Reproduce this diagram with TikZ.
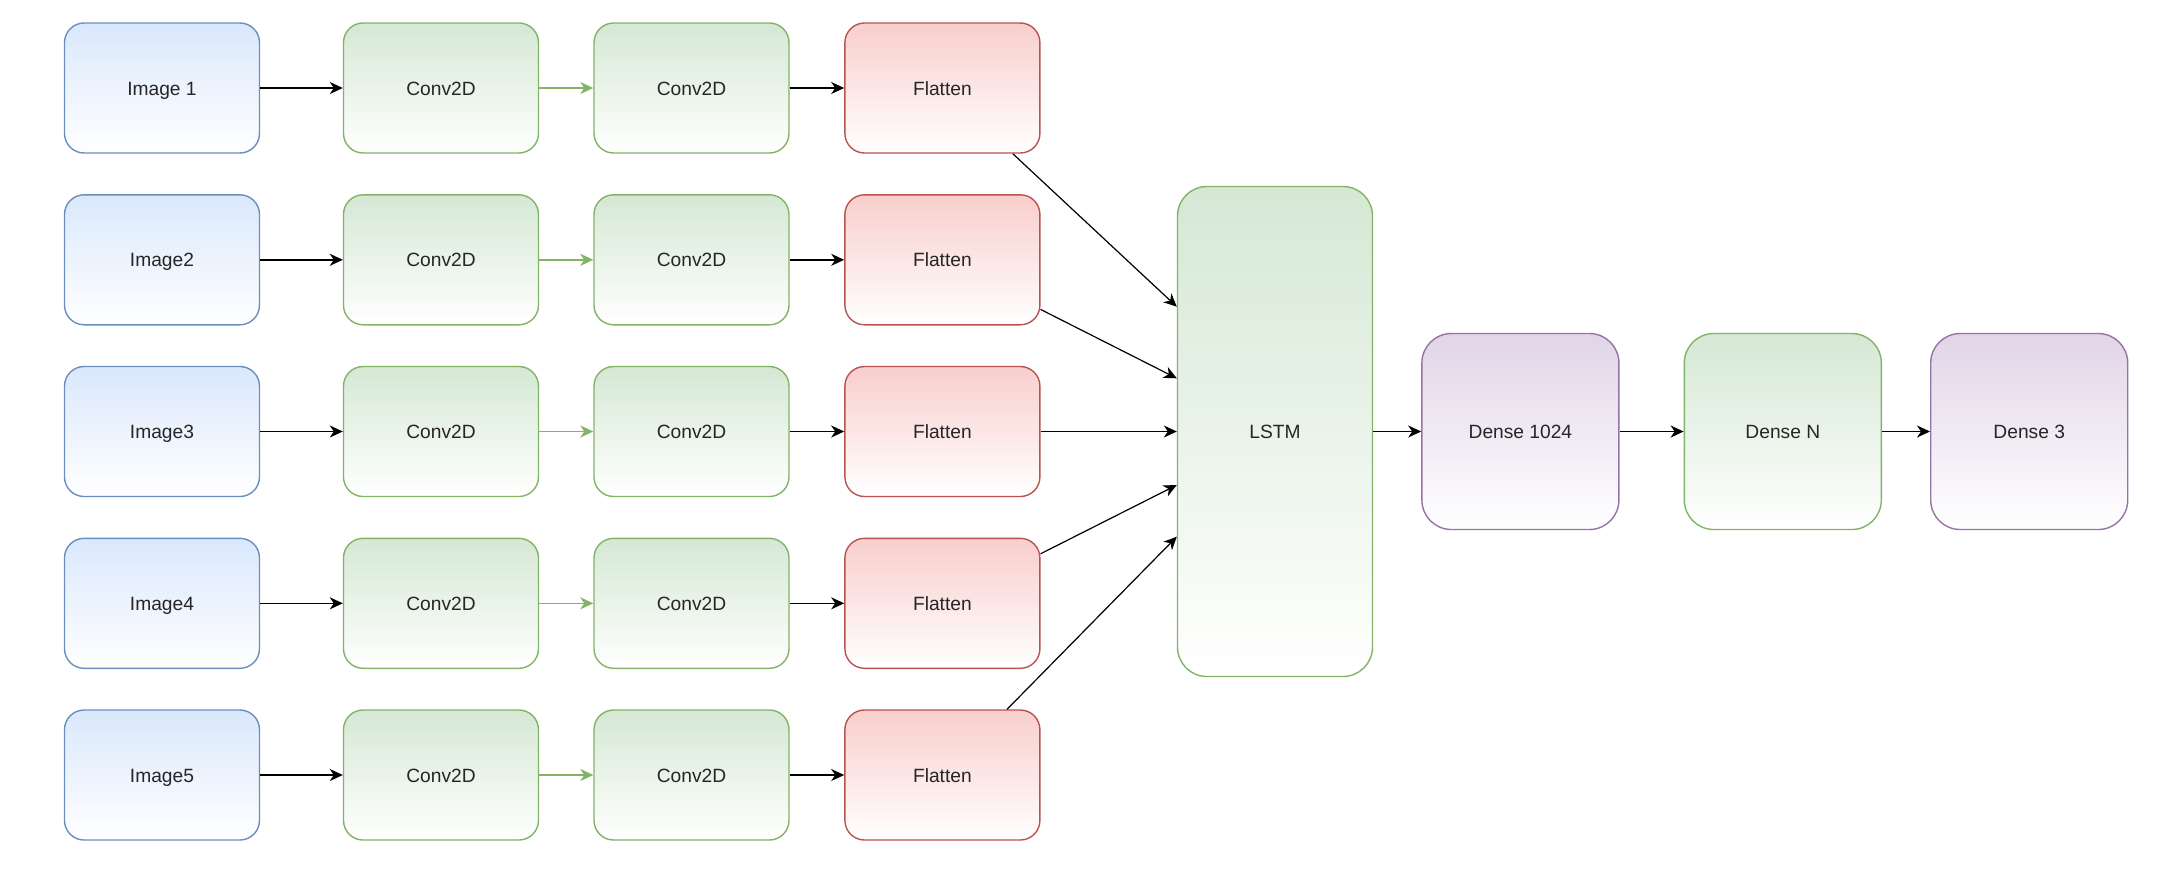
\documentclass[tikz,border=0pt]{standalone}
\usepackage{fontspec}
\setmainfont{Liberation Sans}
\usetikzlibrary{arrows.meta,positioning}
\definecolor{BlueLine}{HTML}{6C8EBF}
\definecolor{BlueFill}{HTML}{DAE8FC}
\definecolor{GreenLine}{HTML}{82B366}
\definecolor{GreenFill}{HTML}{D5E8D4}
\definecolor{RedLine}{HTML}{B85450}
\definecolor{RedFill}{HTML}{F8CECC}
\definecolor{PurpleLine}{HTML}{9673A6}
\definecolor{PurpleFill}{HTML}{E1D5E7}
\tikzset{>={Stealth[length=6.5pt,width=6pt,inset=2pt]},every node/.style={font=\fontsize{9.6}{11}\selectfont,text=black!85},
 layer/.style={draw=#1Line,top color=#1Fill,bottom color=white,line width=.7pt,rounded corners=9.8pt,
 minimum width=97.5pt,minimum height=65pt,inner sep=0pt,text height=8.5pt,text depth=1.5pt},
 dense/.style={layer=#1,rounded corners=14.7pt,minimum height=98pt,minimum width=98.5pt},
 flow/.style={->,line width=.8pt}}
\begin{document}
\begin{tikzpicture}[x=.5pt,y=-.5pt]
\useasboundingbox (0,0) rectangle (2184,880);
\node[dense=Green,minimum height=245pt,minimum width=97.5pt] (lstm) at (1275,431.5) {LSTM};
\foreach \r/\y/\t/\dy in {1/88/Image 1/-124.8,2/259.8/Image2/-53.2,3/431.5/Image3/0,4/603.3/Image4/53.5,5/775/Image5/105.2}{
 \node[layer=Blue] (img\r) at (162,\y) {\t};
 \node[layer=Green] (cva\r) at (441,\y) {Conv2D};
 \node[layer=Green] (cvb\r) at (691.5,\y) {Conv2D};
 \node[layer=Red] (flat\r) at (942.4,\y) {Flatten};
 \draw[flow] (img\r)--(cva\r);
 \draw[flow,GreenLine] (cva\r)--(cvb\r);
 \draw[flow] (cvb\r)--(flat\r);
 \path (lstm.west) ++(0,\dy) coordinate (in\r);
 \draw[flow,line width=.6pt] (flat\r)--(in\r);
}
\node[dense=Purple,right=24pt of lstm] (d1024) {Dense 1024};
\node[dense=Green,right=32pt of d1024] (dn) {Dense N};
\node[dense=Purple,right=24pt of dn] (d3) {Dense 3};
\draw[flow] (lstm)--(d1024);
\draw[flow] (d1024)--(dn);
\draw[flow] (dn)--(d3);
\end{tikzpicture}
\end{document}
